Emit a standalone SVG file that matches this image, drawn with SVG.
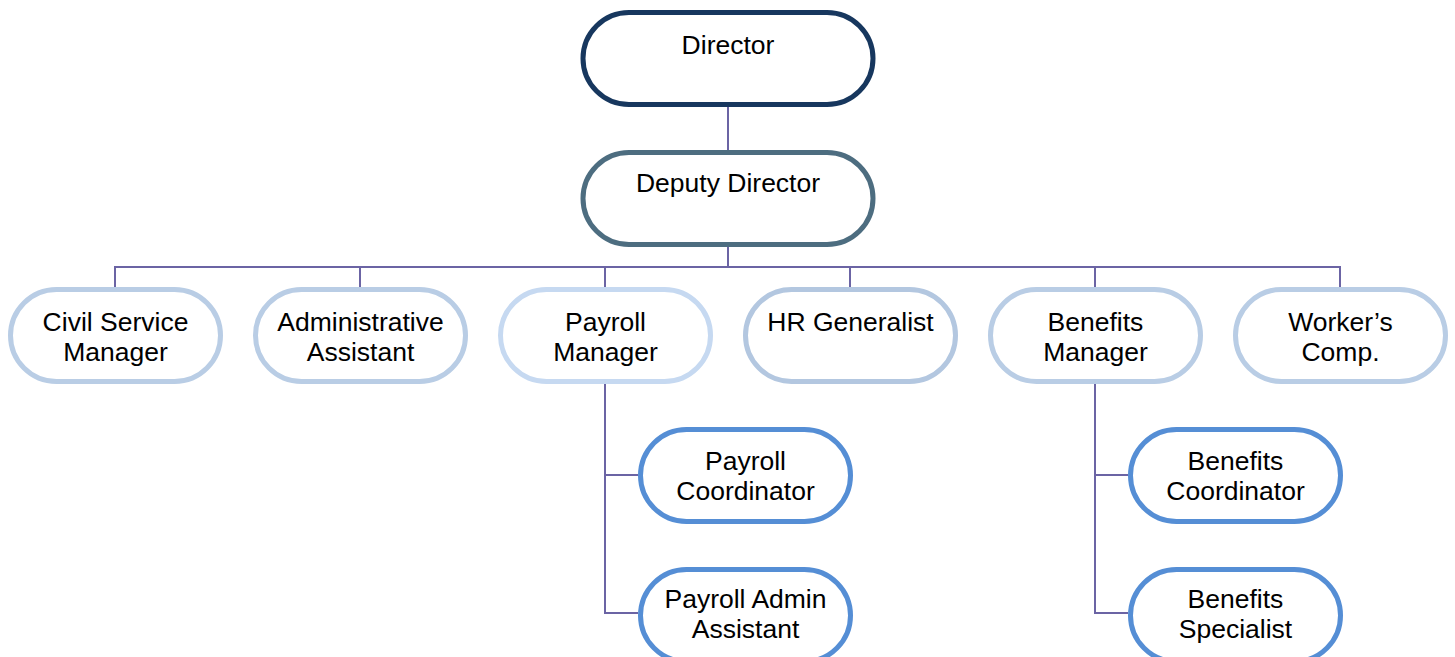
<svg xmlns="http://www.w3.org/2000/svg" width="1455" height="657" viewBox="0 0 1455 657">
  <style>
    .box { fill: #ffffff; stroke-width: 5; }
    .top { stroke: #17375e; }
    .deputy { stroke: #4d6d80; }
    .staff { stroke: #b9cde5; }
    .staff-light { stroke: #c6d9f1; }
    .staff-mid { stroke: #b3c7e0; }
    .sub { stroke: #558ed5; }
    .label { font-family: "Liberation Sans", Arial, sans-serif; font-size: 26.5px; fill: #000000; text-anchor: middle; }
    .link { fill: none; stroke: #6b64a4; stroke-width: 2; }
  </style>

  <!-- reporting lines -->
  <g id="connectors">
    <path class="link" d="M728 107 V150"/>
    <path class="link" d="M728 247 V267"/>
    <path class="link" d="M115 287 V267 H1340 V287"/>
    <path class="link" d="M360 267 V287"/>
    <path class="link" d="M605 267 V287"/>
    <path class="link" d="M850 267 V287"/>
    <path class="link" d="M1095 267 V287"/>
    <path class="link" d="M605 384 V613 H638"/>
    <path class="link" d="M605 475 H638"/>
    <path class="link" d="M1095 384 V613 H1128"/>
    <path class="link" d="M1095 475 H1128"/>
  </g>

  <g id="director">
    <rect class="box top" x="583" y="12.5" width="290" height="92" rx="46"/>
    <text class="label" x="728" y="53.5">Director</text>
  </g>

  <g id="deputy-director">
    <rect class="box deputy" x="583" y="152.5" width="290" height="92" rx="46"/>
    <text class="label" x="728" y="191.5">Deputy Director</text>
  </g>

  <g id="civil-service-manager">
    <rect class="box staff" x="10.5" y="289.5" width="210" height="92" rx="46"/>
    <text class="label" x="115.5" y="330.5">Civil Service</text>
    <text class="label" x="115.5" y="360.5">Manager</text>
  </g>

  <g id="administrative-assistant">
    <rect class="box staff" x="255.5" y="289.5" width="210" height="92" rx="46"/>
    <text class="label" x="360.5" y="330.5">Administrative</text>
    <text class="label" x="360.5" y="360.5">Assistant</text>
  </g>

  <g id="payroll-manager">
    <rect class="box staff-light" x="500.5" y="289.5" width="210" height="92" rx="46"/>
    <text class="label" x="605.5" y="330.5">Payroll</text>
    <text class="label" x="605.5" y="360.5">Manager</text>
  </g>

  <g id="hr-generalist">
    <rect class="box staff-mid" x="745.5" y="289.5" width="210" height="92" rx="46"/>
    <text class="label" x="850.5" y="330.5">HR Generalist</text>
  </g>

  <g id="benefits-manager">
    <rect class="box staff" x="990.5" y="289.5" width="210" height="92" rx="46"/>
    <text class="label" x="1095.5" y="330.5">Benefits</text>
    <text class="label" x="1095.5" y="360.5">Manager</text>
  </g>

  <g id="workers-comp">
    <rect class="box staff" x="1235.5" y="289.5" width="210" height="92" rx="46"/>
    <text class="label" x="1340.5" y="330.5">Worker’s</text>
    <text class="label" x="1340.5" y="360.5">Comp.</text>
  </g>

  <g id="payroll-coordinator">
    <rect class="box sub" x="640.5" y="429.5" width="210" height="92" rx="46"/>
    <text class="label" x="745.5" y="469.5">Payroll</text>
    <text class="label" x="745.5" y="499.5">Coordinator</text>
  </g>

  <g id="payroll-admin-assistant">
    <rect class="box sub" x="640.5" y="569.5" width="210" height="92" rx="46"/>
    <text class="label" x="745.5" y="607.5">Payroll Admin</text>
    <text class="label" x="745.5" y="637.5">Assistant</text>
  </g>

  <g id="benefits-coordinator">
    <rect class="box sub" x="1130.5" y="429.5" width="210" height="92" rx="46"/>
    <text class="label" x="1235.5" y="469.5">Benefits</text>
    <text class="label" x="1235.5" y="499.5">Coordinator</text>
  </g>

  <g id="benefits-specialist">
    <rect class="box sub" x="1130.5" y="569.5" width="210" height="92" rx="46"/>
    <text class="label" x="1235.5" y="607.5">Benefits</text>
    <text class="label" x="1235.5" y="637.5">Specialist</text>
  </g>
</svg>
